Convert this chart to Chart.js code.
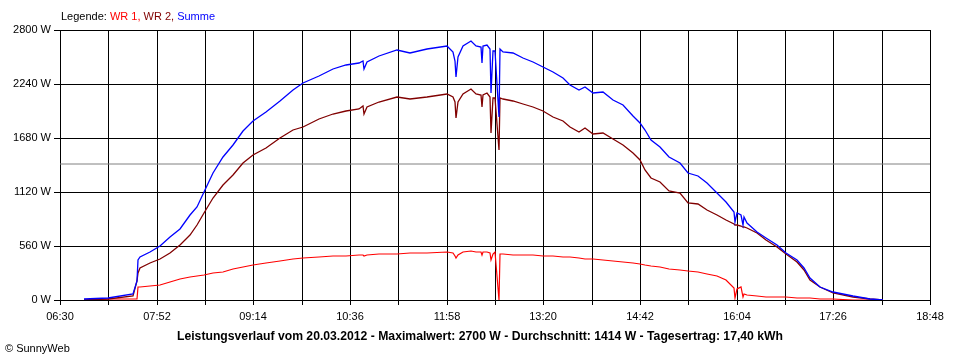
<!DOCTYPE html>
<html>
<head>
<meta charset="utf-8">
<script src="https://cdn.jsdelivr.net/npm/chart.js@4.4.1/dist/chart.umd.min.js"></script>
<style>
  body { margin: 0; background: #fff; }
  #wrap { width: 960px; height: 360px; }
</style>
</head>
<body>
<div id="wrap"><canvas id="chart" width="960" height="360"></canvas></div>
<script>
// Messzeitpunkte (HH:MM) und Leistung in W
const times = ['06:50','07:11','07:32','07:35','07:36','07:38','07:46','07:55','08:03','08:12','08:20','08:26',
  '08:32','08:40','08:48','08:57','09:05','09:14','09:25','09:37','09:48','09:56','10:10','10:22','10:33','10:44',
  '10:47','10:48','10:50','11:01','11:16','11:27','11:41','11:58','12:03','12:05','12:06','12:08','12:12','12:19',
  '12:23','12:27','12:28','12:29','12:32','12:35','12:36','12:37','12:39','12:42','12:43','12:46','12:54','13:03',
  '13:11','13:20','13:28','13:37','13:43','13:50','13:55','14:02','14:11','14:19','14:28','14:36','14:42','14:46',
  '14:51','14:59','15:07','15:16','15:23','15:31','15:39','15:47','15:55','16:02','16:03','16:04','16:08','16:09',
  '16:10','16:13','16:21','16:29','16:38','16:46','16:55','17:01','17:06','17:15','17:26','17:43','17:57','18:08'];

const wr1 = [2,7,12,12,130,138,148,160,185,218,238,250,
  260,275,295,320,340,363,385,408,422,432,445,452,458,463,
  466,460,466,472,480,484,488,494,490,460,432,470,495,505,
  498,495,470,495,495,490,415,480,494,0,480,474,470,466,
  462,458,452,446,442,436,430,422,412,405,398,385,372,362,
  352,339,325,308,300,288,270,245,205,121,24,115,138,30,
  60,52,40,34,30,26,24,20,16,10,8,4,2,0];

const wr2 = [4,14,41,200,280,329,380,422,484,567,674,778,
  899,1055,1193,1296,1424,1504,1573,1677,1763,1797,1874,1929,1963,1985,
  2012,1929,2000,2057,2102,2081,2102,2136,2105,2050,1884,2057,2136,2188,
  2136,2130,1998,2130,2150,2110,1728,2100,2091,1555,2100,2081,2067,2032,
  1998,1963,1901,1860,1791,1745,1780,1722,1728,1666,1607,1525,1455,1348,
  1270,1227,1134,1106,1010,996,930,880,825,785,780,778,765,762,
  758,743,691,622,553,474,397,311,207,131,76,34,10,0];

const summe = [7,24,62,200,415,450,495,565,650,740,880,960,
  1125,1314,1486,1607,1750,1860,1953,2067,2178,2247,2323,2392,2437,2455,
  2481,2392,2470,2530,2593,2565,2600,2637,2570,2480,2316,2523,2634,2689,
  2634,2620,2461,2630,2645,2600,2143,2580,2585,1901,2600,2575,2558,2506,
  2471,2419,2368,2299,2230,2178,2212,2150,2161,2074,2022,1910,1832,1760,
  1659,1583,1486,1424,1314,1286,1210,1113,1020,916,812,900,881,778,
  860,795,708,640,570,484,415,329,225,138,86,41,14,0];

const durchschnitt = 1414;
const xStart = '06:30', xEnd = '18:48', xStep = 41;
const yTicks = [0, 560, 1120, 1680, 2240, 2800];

const toMin = s => { const [h, m] = s.split(':').map(Number); return h * 60 + m; };
const fmt = v => String(Math.floor(v / 60)).padStart(2, '0') + ':' + String(v % 60).padStart(2, '0');
const pts = arr => times.map((t, i) => ({ x: toMin(t), y: arr[i] }));

const FONT = '"Liberation Sans", Arial, sans-serif';

const texts = {
  id: 'texts',
  afterDraw(chart) {
    const ctx = chart.ctx;
    ctx.save();
    ctx.textBaseline = 'middle';
    ctx.font = '11px ' + FONT;
    let x = 61;
    [['Legende: ', '#000'], ['WR 1, ', '#ff0000'], ['WR 2, ', '#800000'], ['Summe', '#0000ff']].forEach(([s, c]) => {
      ctx.fillStyle = c;
      ctx.fillText(s, x, 17);
      x += ctx.measureText(s).width;
    });
    ctx.fillStyle = '#000';
    ctx.font = 'bold 12.2px ' + FONT;
    ctx.textAlign = 'center';
    ctx.fillText('Leistungsverlauf vom 20.03.2012 - Maximalwert: 2700 W - Durchschnitt: 1414 W - Tagesertrag: 17,40 kWh', 480, 337);
    ctx.textAlign = 'left';
    ctx.font = '11px ' + FONT;
    ctx.fillText('© SunnyWeb', 5, 349);
    ctx.restore();
  }
};

new Chart(document.getElementById('chart').getContext('2d'), {
  type: 'line',
  data: {
    datasets: [
      { label: 'Summe', data: pts(summe), borderColor: '#0000ff', borderWidth: 1.3, order: 1 },
      { label: 'WR 2', data: pts(wr2), borderColor: '#800000', borderWidth: 1.3, order: 2 },
      { label: 'WR 1', data: pts(wr1), borderColor: '#ff0000', borderWidth: 1.2, order: 3 },
      {
        label: 'Durchschnitt',
        data: [{ x: toMin(xStart), y: durchschnitt }, { x: toMin(xEnd), y: durchschnitt }],
        borderColor: '#808080', borderWidth: 1, order: 4
      }
    ]
  },
  options: {
    responsive: false,
    animation: false,
    elements: { point: { radius: 0 }, line: { tension: 0, fill: false } },
    layout: { padding: { top: 30, right: 30, left: 0, bottom: 0 } },
    plugins: { legend: { display: false }, title: { display: false }, tooltip: { enabled: false } },
    scales: {
      x: {
        type: 'linear',
        min: toMin(xStart),
        max: toMin(xEnd),
        alignToPixels: true,
        afterFit: s => { s.height = 60; },
        border: { color: '#000', width: 1 },
        grid: { color: '#000', lineWidth: 1, tickLength: 5 },
        ticks: {
          stepSize: xStep,
          autoSkip: false,
          maxRotation: 0,
          padding: 5,
          color: '#000',
          font: { family: FONT, size: 11 },
          callback: v => ((v - toMin(xStart)) % (2 * xStep) === 0 ? fmt(v) : '')
        }
      },
      y: {
        min: yTicks[0],
        max: yTicks[yTicks.length - 1],
        alignToPixels: true,
        afterFit: s => { s.width = 60; },
        afterBuildTicks: s => { s.ticks = yTicks.map(v => ({ value: v })); },
        border: { color: '#000', width: 1 },
        grid: { color: '#000', lineWidth: 1, tickLength: 6 },
        ticks: {
          padding: 3,
          color: '#000',
          font: { family: FONT, size: 11 },
          callback: v => v + ' W'
        }
      }
    }
  },
  plugins: [texts]
});
</script>
</body>
</html>
